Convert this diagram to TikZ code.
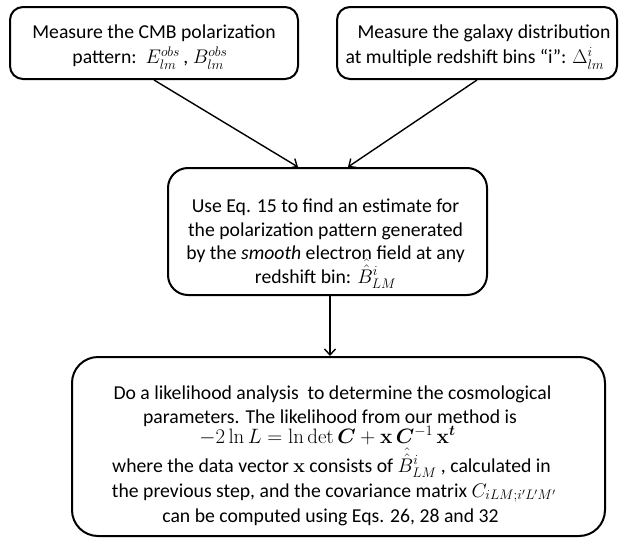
\RequirePackage{fix-cm}
\documentclass[tikz,border=0pt]{standalone}
\usepackage{amsmath}
\usepackage{bm}
\usepackage[no-math]{fontspec}
\setmainfont{Carlito}
\usetikzlibrary{arrows.meta}
\newcommand{\dhatB}{\hat{\hat{B}}}
\begin{document}
\begin{tikzpicture}[x=1pt,y=-1pt,
  box/.style={draw, line width=2pt, inner sep=0pt},
  ln/.style={anchor=base, inner sep=0pt, font=\fontsize{19.7}{24}\selectfont},
  conn/.style={line width=1.4pt, -{Straight Barb[length=6pt,width=11pt]}}]
\useasboundingbox (0,0) rectangle (619,538);
% box 1
\node[box, rounded corners=13pt, minimum width=288pt, minimum height=72pt] (b1) at (154,43) {};
\node[ln] (t1a) at (154,38) {Measure the CMB polarization};
\node[ln] (t1b) at (150,63.5) {pattern:\ \ $E^{obs}_{lm}$\,, $B^{obs}_{lm}$};
% box 2
\node[box, rounded corners=13pt, minimum width=280pt, minimum height=72pt] (b2) at (477,43) {};
\node[ln] (t2a) at (484,38) {Measure the galaxy distribution};
\node[ln] (t2b) at (475,63.5) {at multiple redshift bins “i”: $\Delta^{i}_{lm}$};
% box 3
\node[box, rounded corners=20pt, minimum width=319pt, minimum height=127pt] (b3) at (327.5,231.5) {};
\node[ln] (t3a) at (325.5,212) {Use Eq. 15 to find an estimate for};
\node[ln] (t3b) at (325.5,236) {the polarization pattern generated};
\node[ln] (t3c) at (325.5,259.5) {by the \emph{smooth} electron field at any};
\node[ln] (t3d) at (325.5,283) {redshift bin: $\dhatB^{i}_{LM}$};
% box 4
\node[box, rounded corners=26pt, minimum width=533pt, minimum height=179pt] (b4) at (338.5,446.5) {};
\node[ln] (t4a) at (332.5,399) {Do a likelihood analysis\ \ to determine the cosmological};
\node[ln] (t4b) at (330,423.5) {parameters. The likelihood from our method is};
\node[ln, font=\fontsize{20.8}{24}\selectfont] (t4c) at (327.5,443)
  {$-2\ln L = \ln\det \bm{C} + \mathbf{x}\,\bm{C}^{-1}\,\mathbf{x}^{\bm{t}}$};
\node[ln] (t4d) at (331.5,472) {where the data vector $\mathbf{x}$ consists of $\dhatB^{i}_{LM}$ , calculated in};
\node[ln] (t4e) at (334,497) {the previous step, and the covariance matrix $C_{iLM;i'L'M'}$};
\node[ln] (t4f) at (330.5,522) {can be computed using Eqs. 26, 28 and 32};
% connectors
\draw[conn] (b1.south) -- ([xshift=-29.5pt]b3.north);
\draw[conn] (b2.south) -- ([xshift=20.5pt]b3.north);
\draw[conn] ([xshift=2.5pt]b3.south) -- ([xshift=-8.5pt]b4.north);
\end{tikzpicture}
\end{document}
